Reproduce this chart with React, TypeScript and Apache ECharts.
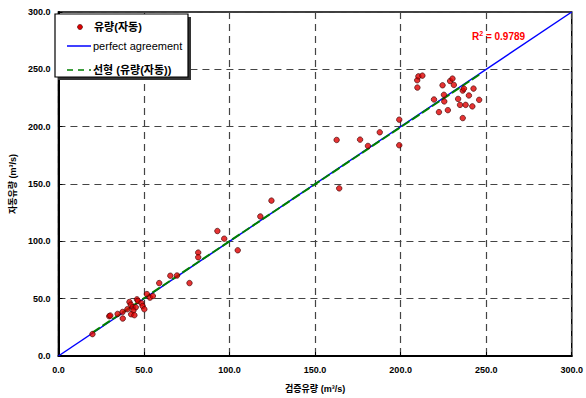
import React, { useEffect, useRef } from "react";
import * as echarts from "echarts";

const FONT = "'Liberation Sans', Arial, 'Noto Sans CJK KR', sans-serif";

const axisTicks = [0, 50, 100, 150, 200, 250, 300];

const observedX = [
  19.9, 29.7, 30.3, 34.6, 37.6, 37.5, 40.3, 41.5, 42.3, 43.4, 45.2, 43.8, 42.5, 44.4, 45.9, 46.5,
  48.5, 49.2, 50.2, 51.7, 53.5, 55.2, 58.9, 65.4, 69.3, 76.6, 81.7, 81.7, 92.9, 96.9, 104.8, 118.0,
  124.5, 162.6, 164.1, 176.3, 180.9, 187.8, 199.2, 199.2, 209.8, 209.7, 210.4, 212.7, 219.5, 222.4,
  224.5, 225.3, 225.5, 227.6, 228.9, 230.3, 231.1, 233.6, 234.7, 236.3, 237.0, 238.0, 236.3, 239.9,
  241.9, 242.6, 245.9,
];
const autoY = [
  19.1, 34.7, 35.3, 36.7, 32.7, 38.4, 40.8, 47.1, 44.8, 42.5, 42.5, 39.6, 36.4, 35.6, 49.4, 48.0,
  46.2, 43.6, 40.8, 54.0, 50.9, 52.3, 63.6, 70.0, 70.2, 63.6, 90.2, 86.1, 109.0, 102.3, 92.2, 121.7,
  135.5, 188.4, 146.2, 188.7, 183.2, 195.1, 206.1, 183.8, 234.1, 240.5, 243.9, 244.5, 223.7, 212.7,
  236.1, 227.8, 222.0, 214.4, 239.8, 241.9, 236.4, 224.2, 219.0, 231.5, 233.2, 219.0, 207.5, 227.2,
  217.7, 233.2, 223.4,
];
const perfectLine = [
  [0, 0],
  [300, 300],
];
const fitLine = [
  [19.9, 20.4],
  [245.9, 245.3],
];
const rSquared = "0.9789";
const seriesNames = ["유량(자동)", "perfect agreement", "선형 (유량(자동))"];
const xName = "검증유량 (m³/s)";
const yName = "자동유량 (m³/s)";

export default function App() {
  const ref = useRef<HTMLDivElement>(null);
  useEffect(() => {
    if (!ref.current) return;
    const chart = echarts.init(ref.current, null, { renderer: "svg" });
    const axisCommon = {
      type: "value",
      min: axisTicks[0],
      max: axisTicks[axisTicks.length - 1],
      interval: 50,
      axisLine: { show: true, onZero: false, lineStyle: { color: "#000", width: 2 } },
      axisTick: { show: true, inside: true, length: 4, lineStyle: { color: "#000", width: 1 } },
      splitLine: { show: true, lineStyle: { color: "#444", width: 1.2, type: [7, 5] } },
      axisLabel: {
        color: "#000",
        fontSize: 9,
        fontWeight: "bold",
        fontFamily: FONT,
        formatter: (v: number) => v.toFixed(1),
      },
      nameLocation: "middle",
      nameTextStyle: { color: "#000", fontSize: 9, fontWeight: "bold", fontFamily: FONT },
    };
    chart.setOption({
      animation: false,
      backgroundColor: "#fff",
      grid: {
        left: 54,
        right: 11,
        top: 12,
        bottom: 38,
        show: true,
        borderColor: "#000",
        borderWidth: 1.5,
        backgroundColor: "transparent",
      },
      xAxis: { ...axisCommon, name: xName, nameGap: 28, axisLabel: { ...axisCommon.axisLabel, margin: 9 } },
      yAxis: { ...axisCommon, name: yName, nameGap: 39, axisLabel: { ...axisCommon.axisLabel, margin: 8 } },
      series: [
        {
          name: seriesNames[1],
          type: "line",
          data: perfectLine,
          symbol: "none",
          lineStyle: { color: "#0000ff", width: 1.5 },
          z: 2,
        },
        {
          name: seriesNames[2],
          type: "line",
          data: fitLine,
          symbol: "none",
          lineStyle: { color: "#008000", width: 2, type: [9, 3] },
          z: 3,
        },
        {
          name: seriesNames[0],
          type: "scatter",
          data: observedX.map((x, i) => [x, autoY[i]]),
          symbol: "circle",
          symbolSize: 5.5,
          itemStyle: { color: "#e00000", borderColor: "#3a0000", borderWidth: 0.8 },
          z: 4,
        },
      ],
      graphic: [
        { type: "rect", shape: { x: 58, y: 17, width: 133, height: 63 }, style: { fill: "#333" }, z: 10 },
        {
          type: "rect",
          shape: { x: 55, y: 14, width: 133, height: 63 },
          style: { fill: "#fff", stroke: "#000", lineWidth: 1.2 },
          z: 11,
        },
        { type: "circle", shape: { cx: 80, cy: 27, r: 2.5 }, style: { fill: "#e00000", stroke: "#3a0000", lineWidth: 0.6 }, z: 12 },
        {
          type: "text",
          x: 94,
          y: 27,
          style: { text: seriesNames[0], fill: "#000", font: `bold 11px ${FONT}`, verticalAlign: "middle" },
          z: 12,
        },
        { type: "line", shape: { x1: 67, y1: 46, x2: 91, y2: 46 }, style: { stroke: "#0000ff", lineWidth: 1.5 }, z: 12 },
        {
          type: "text",
          x: 93,
          y: 46,
          style: { text: seriesNames[1], fill: "#000", font: `11px ${FONT}`, verticalAlign: "middle" },
          z: 12,
        },
        {
          type: "line",
          shape: { x1: 67, y1: 70, x2: 91, y2: 70 },
          style: { stroke: "#008000", lineWidth: 1.5, lineDash: [6, 5] },
          z: 12,
        },
        {
          type: "text",
          x: 93,
          y: 70,
          style: { text: seriesNames[2], fill: "#000", font: `bold 11px ${FONT}`, verticalAlign: "middle" },
          z: 12,
        },
        {
          type: "text",
          x: 472,
          y: 36,
          style: {
            text: "{r|R}{s|2}{r| = " + rSquared + "}",
            verticalAlign: "middle",
            rich: {
              r: { fill: "#ff0000", fontSize: 10, fontWeight: "bold", fontFamily: FONT },
              s: { fill: "#ff0000", fontSize: 7, fontWeight: "bold", fontFamily: FONT, verticalAlign: "top", padding: [0, 0, 5, 0] },
            },
          },
          z: 12,
        },
      ],
    });
    return () => chart.dispose();
  }, []);
  return <div ref={ref} style={{ position: "fixed", left: 0, top: 0, width: 586, height: 398 }} />;
}
